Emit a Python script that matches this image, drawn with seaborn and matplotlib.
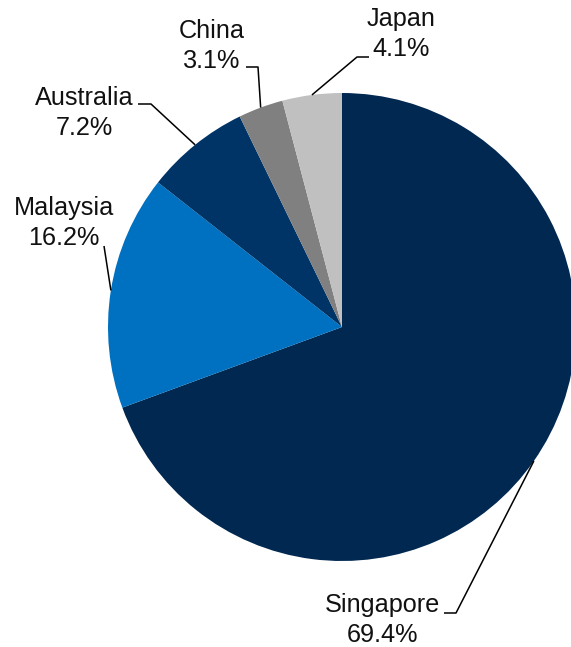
import matplotlib
matplotlib.use("Agg")
import matplotlib.pyplot as plt
import seaborn as sns
import numpy as np

# Share of total by country
countries = ["Singapore", "Malaysia", "Australia", "China", "Japan"]
shares = [69.4, 16.2, 7.2, 3.1, 4.1]
colors = ["#002850", "#0070C0", "#003366", "#808080", "#C0C0C0"]

W, H = 571, 647
sns.set_theme(style="white")
plt.rcParams["font.family"] = ["Liberation Sans", "DejaVu Sans"]

fig = plt.figure(figsize=(W / 100, H / 100), dpi=100)
ax = fig.add_axes([0, 0, 1, 1])


def up(y):
    # pixel rows are counted from the top
    return H - y


cx, cy, r = 342, up(327), 234
wedges, _ = ax.pie(shares, colors=colors, startangle=90, counterclock=False,
                   center=(cx, cy), radius=r, frame=True,
                   wedgeprops=dict(linewidth=0, antialiased=True))
ax.set_xlim(0, W)
ax.set_ylim(0, H)
ax.set_aspect("equal")
ax.axis("off")

# label placement: text centre, leader elbow, leader end (pixels from top-left)
layout = {
    "Singapore": dict(text=(382, 620), elbow=(456, 613), end=(444, 613)),
    "Malaysia": dict(text=(64, 223), elbow=(104, 246), end=(104, 246)),
    "Australia": dict(text=(84, 113), elbow=(151, 104), end=(138, 104)),
    "China": dict(text=(212, 46), elbow=(258, 67), end=(246, 67)),
    "Japan": dict(text=(401, 34), elbow=(357, 57), end=(369, 57)),
}

for w, name, val in zip(wedges, countries, shares):
    mid = np.deg2rad((w.theta1 + w.theta2) / 2)
    ax0, ay0 = cx + r * np.cos(mid), cy + r * np.sin(mid)
    lay = layout[name]
    ex, ey = lay["elbow"]
    nx, ny = lay["end"]
    ax.plot([ax0, ex, nx], [ay0, up(ey), up(ny)], color="black", lw=1.1,
            solid_capstyle="butt", zorder=3)
    tx, ty = lay["text"]
    ax.text(tx, up(ty), f"{name}\n{val:.1f}%", ha="center", va="center",
            fontsize=18.2, color="#111111", linespacing=1.3)

fig.savefig("out.png", dpi=100)
